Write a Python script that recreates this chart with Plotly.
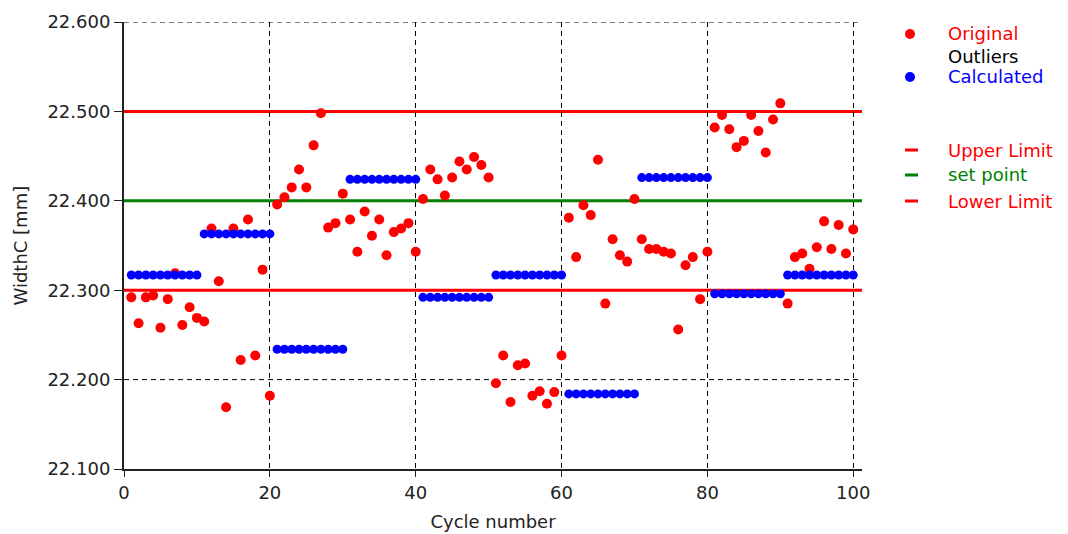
import plotly.graph_objects as go

# Cycle numbers and measured WidthC values [mm]
cycles = list(range(1, 101))

original = [
    22.292, 22.263, 22.292, 22.294, 22.258, 22.290, 22.319, 22.261, 22.281, 22.269,
    22.265, 22.369, 22.310, 22.169, 22.369, 22.222, 22.379, 22.227, 22.323, 22.182,
    22.396, 22.404, 22.415, 22.435, 22.415, 22.462, 22.498, 22.370, 22.375, 22.408,
    22.379, 22.343, 22.388, 22.361, 22.379, 22.339, 22.365, 22.369, 22.375, 22.343,
    22.402, 22.435, 22.424, 22.406, 22.426, 22.444, 22.435, 22.449, 22.440, 22.426,
    22.196, 22.227, 22.175, 22.216, 22.218, 22.182, 22.187, 22.173, 22.186, 22.227,
    22.381, 22.337, 22.395, 22.384, 22.446, 22.285, 22.357, 22.339, 22.332, 22.402,
    22.357, 22.346, 22.346, 22.343, 22.341, 22.256, 22.328, 22.337, 22.290, 22.343,
    22.482, 22.496, 22.480, 22.460, 22.467, 22.496, 22.478, 22.454, 22.491, 22.509,
    22.285, 22.337, 22.341, 22.324, 22.348, 22.377, 22.346, 22.373, 22.341, 22.368,
]

calculated = [
    22.317, 22.317, 22.317, 22.317, 22.317, 22.317, 22.317, 22.317, 22.317, 22.317,
    22.363, 22.363, 22.363, 22.363, 22.363, 22.363, 22.363, 22.363, 22.363, 22.363,
    22.234, 22.234, 22.234, 22.234, 22.234, 22.234, 22.234, 22.234, 22.234, 22.234,
    22.424, 22.424, 22.424, 22.424, 22.424, 22.424, 22.424, 22.424, 22.424, 22.424,
    22.292, 22.292, 22.292, 22.292, 22.292, 22.292, 22.292, 22.292, 22.292, 22.292,
    22.317, 22.317, 22.317, 22.317, 22.317, 22.317, 22.317, 22.317, 22.317, 22.317,
    22.184, 22.184, 22.184, 22.184, 22.184, 22.184, 22.184, 22.184, 22.184, 22.184,
    22.426, 22.426, 22.426, 22.426, 22.426, 22.426, 22.426, 22.426, 22.426, 22.426,
    22.296, 22.296, 22.296, 22.296, 22.296, 22.296, 22.296, 22.296, 22.296, 22.296,
    22.317, 22.317, 22.317, 22.317, 22.317, 22.317, 22.317, 22.317, 22.317, 22.317,
]

outliers_x = []
outliers_y = []

upper_limit = 22.5
set_point = 22.4
lower_limit = 22.3

y_ticks = [22.1, 22.2, 22.3, 22.4, 22.5, 22.6]
y_tick_text = ["22.100", "22.200", "22.300", "22.400", "22.500", "22.600"]
x_ticks = [0, 20, 40, 60, 80, 100]

FONT = "DejaVu Sans"
TEXT = "#222222"
RED = "#ff0000"
GREEN = "#008000"
BLUE = "#0000ff"

W, H = 1068, 534
ML, MR, MT, MB = 124, 206, 22, 65
PW, PH = W - ML - MR, H - MT - MB


def px(x):
    return (x - ML) / PW


def py(y):
    return (H - MB - y) / PH


fig = go.Figure()

fig.add_trace(go.Scatter(
    x=cycles, y=original, mode="markers", name="Original",
    marker=dict(color=RED, size=10, line=dict(width=0)),
))
fig.add_trace(go.Scatter(
    x=outliers_x, y=outliers_y, mode="markers", name="Outliers",
    marker=dict(color="black", size=10, line=dict(width=0)),
))
fig.add_trace(go.Scatter(
    x=cycles, y=calculated, mode="markers", name="Calculated",
    marker=dict(color=BLUE, size=9, line=dict(width=0)),
))

# Horizontal dashed grid, drawn first so the limit lines cover it
for val in y_ticks[1:]:
    fig.add_shape(type="line", xref="paper", yref="y", x0=0, x1=1,
                  y0=val, y1=val, line=dict(color="#000000", width=1, dash="5px,4px"),
                  layer="below")

# Limit lines across the full plotting width, beneath the markers
for val, col in [(upper_limit, RED), (set_point, GREEN), (lower_limit, RED)]:
    fig.add_shape(type="line", xref="paper", yref="y", x0=0, x1=1,
                  y0=val, y1=val, line=dict(color=col, width=3), layer="below")

# Hand-built legend on the right
legend_items = [
    ("Original", RED, "dot", 34),
    ("Outliers", "#000000", None, 56),
    ("Calculated", BLUE, "dot", 77),
    ("Upper Limit", RED, "dash", 150),
    ("set point", GREEN, "dash", 175),
    ("Lower Limit", RED, "dash", 201),
]
for label, col, sym, ypix in legend_items:
    if sym == "dot":
        fig.add_shape(type="circle", xref="paper", yref="paper",
                      x0=px(905), x1=px(915), y0=py(ypix + 5), y1=py(ypix - 5),
                      fillcolor=col, line=dict(width=0))
    elif sym == "dash":
        fig.add_shape(type="line", xref="paper", yref="paper",
                      x0=px(905), x1=px(918), y0=py(ypix), y1=py(ypix),
                      line=dict(color=col, width=3))
    fig.add_annotation(text=label, xref="paper", yref="paper",
                       x=px(946), y=py(ypix), xanchor="left", yanchor="middle",
                       showarrow=False, font=dict(family=FONT, size=18, color=col))

# Y axis title
fig.add_annotation(text="WidthC [mm]", xref="paper", yref="paper",
                   x=px(20), y=0.5, xanchor="center", yanchor="middle",
                   textangle=-90, showarrow=False,
                   font=dict(family=FONT, size=18, color=TEXT))

fig.update_layout(
    width=W, height=H,
    margin=dict(l=ML, r=MR, t=MT, b=MB),
    paper_bgcolor="white", plot_bgcolor="white",
    showlegend=False,
    font=dict(family=FONT, size=18, color=TEXT),
)

fig.update_xaxes(
    range=[0, 101.2], tickvals=x_ticks, ticks="outside", ticklen=6,
    tickcolor=TEXT, tickwidth=1,
    showline=True, linecolor=TEXT, linewidth=2,
    showgrid=True, gridcolor="#000000", gridwidth=1, griddash="5px,4px",
    zeroline=False, automargin=False,
    title=dict(text="Cycle number", standoff=14, font=dict(family=FONT, size=18, color=TEXT)),
    tickfont=dict(family=FONT, size=18, color=TEXT),
)
fig.update_yaxes(
    range=[22.1, 22.6], tickvals=y_ticks, ticktext=y_tick_text,
    ticks="outside", ticklen=8, tickcolor=TEXT, tickwidth=1,
    showline=True, linecolor=TEXT, linewidth=2,
    showgrid=False, zeroline=False, automargin=False,
    tickfont=dict(family=FONT, size=18, color=TEXT),
)

fig.write_html("out.html")
